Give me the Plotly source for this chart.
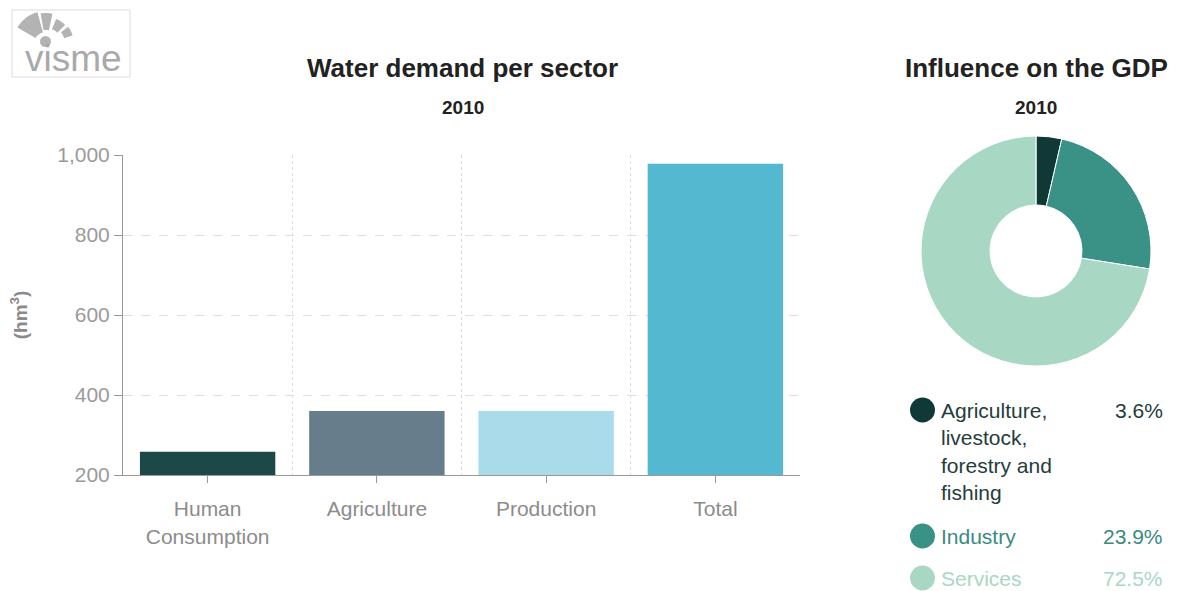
import math
import plotly.graph_objects as go

W, H = 1191, 591

# ---- data ----
sectors = ["Human<br>Consumption", "Agriculture", "Production", "Total"]
demand = [258, 360, 360, 978]
bar_colors = ["#1d4848", "#677d8b", "#a9dbea", "#55b8d1"]

gdp_labels = ["Agriculture,<br>livestock,<br>forestry and<br>fishing", "Industry", "Services"]
gdp_share = [3.6, 23.9, 72.5]
gdp_colors = ["#0f3837", "#3a9186", "#a8d8c3"]
gdp_pct_text = ["3.6%", "23.9%", "72.5%"]

y_ticks = [200, 400, 600, 800, 1000]

def px_x(x):
    return x / W

def px_y(y):
    return 1 - y / H

FONT = "Liberation Sans, Arial, sans-serif"

fig = go.Figure()

xpos = list(range(len(sectors)))
fig.add_trace(go.Bar(
    x=xpos, y=demand, marker=dict(color=bar_colors, line=dict(width=0)),
    width=0.8, showlegend=False, hoverinfo="y",
))

fig.add_trace(go.Pie(
    labels=[l.replace("<br>", " ") for l in gdp_labels], values=gdp_share,
    marker=dict(colors=gdp_colors, line=dict(color="white", width=1)),
    hole=0.4, sort=False, direction="clockwise", rotation=0,
    textinfo="none", showlegend=False,
    domain=dict(x=[px_x(921), px_x(1151)], y=[px_y(366), px_y(136)]),
))

fig.update_layout(
    width=W, height=H,
    autosize=False,
    margin=dict(l=0, r=0, t=0, b=0, pad=0, autoexpand=False),
    paper_bgcolor="white", plot_bgcolor="white",
    font=dict(family=FONT),
    xaxis=dict(
        domain=[px_x(123), px_x(800)],
        range=[-0.5, len(sectors) - 0.5],
        tickvals=xpos, ticktext=sectors,
        showgrid=False, zeroline=False, automargin=False,
        showline=True, linecolor="#999", linewidth=1,
        ticks="outside", ticklen=7, tickcolor="#999",
        ticklabelstandoff=8,
        tickfont=dict(size=21, color="#8c8c8c", family=FONT),
        minor=dict(tickvals=[0.5, 1.5, 2.5, 3.5], showgrid=True,
                   gridcolor="#dedede", griddash="dot", gridwidth=1, ticks=""),
        fixedrange=True,
    ),
    yaxis=dict(
        domain=[px_y(475), px_y(155)],
        range=[200, 1000],
        tickvals=y_ticks, tickformat=",",
        showgrid=True, gridcolor="#dedede", griddash="dash", gridwidth=1,
        zeroline=False, automargin=False,
        showline=True, linecolor="#999", linewidth=1,
        ticks="outside", ticklen=8, tickcolor="#999",
        tickfont=dict(size=21, color="#9a9a9a", family=FONT),
        title=dict(text="<b>(hm<sup>3</sup>)</b>", font=dict(size=19, color="#8a8a8a"), standoff=24),
        fixedrange=True,
    ),
    bargap=0.2,
)

ann = []
# titles
ann.append(dict(text="<b>Water demand per sector</b>", x=px_x(462), y=px_y(68),
                xref="paper", yref="paper", showarrow=False,
                font=dict(size=26, color="#222"), xanchor="center", yanchor="middle"))
ann.append(dict(text="<b>2010</b>", x=px_x(463), y=px_y(107),
                xref="paper", yref="paper", showarrow=False,
                font=dict(size=19, color="#222"), xanchor="center", yanchor="middle"))
ann.append(dict(text="<b>Influence on the GDP</b>", x=px_x(1036), y=px_y(68),
                xref="paper", yref="paper", showarrow=False,
                font=dict(size=26, color="#222"), xanchor="center", yanchor="middle"))
ann.append(dict(text="<b>2010</b>", x=px_x(1036), y=px_y(107),
                xref="paper", yref="paper", showarrow=False,
                font=dict(size=19, color="#222"), xanchor="center", yanchor="middle"))

# custom legend
shapes = []
legend_y = [410, 536, 578]
text_colors = ["#253c3c", "#3a8a80", "#a8d8c3"]
for i, lab in enumerate(gdp_labels):
    cy = legend_y[i]
    shapes.append(dict(type="circle", xref="paper", yref="paper",
                       x0=px_x(910), x1=px_x(935), y0=px_y(cy + 12.5), y1=px_y(cy - 12.5),
                       fillcolor=gdp_colors[i], line=dict(width=0)))
    ann.append(dict(text=lab, x=px_x(939), y=px_y(cy - 13),
                    xref="paper", yref="paper", showarrow=False,
                    font=dict(size=21, color=text_colors[i]), xanchor="left", yanchor="top",
                    align="left"))
    ann.append(dict(text=gdp_pct_text[i], x=px_x(1165), y=px_y(cy - 13),
                    xref="paper", yref="paper", showarrow=False,
                    font=dict(size=21, color=text_colors[i]), xanchor="right", yanchor="top",
                    align="right"))

# logo
shapes.append(dict(type="rect", xref="paper", yref="paper",
                   x0=px_x(12), x1=px_x(130), y0=px_y(77), y1=px_y(10),
                   line=dict(color="#dcdcdc", width=1), fillcolor="white"))
ann.append(dict(text="visme", x=px_x(73), y=px_y(58), xref="paper", yref="paper",
                showarrow=False, font=dict(size=37, color="#a9a9a9", family=FONT),
                xanchor="center", yanchor="middle"))

def wedge(cx, cy, a0, a1, r0, r1, n=8):
    pts = []
    for k in range(n + 1):
        a = math.radians(a0 + (a1 - a0) * k / n)
        pts.append((cx + r1 * math.cos(a), cy - r1 * math.sin(a)))
    for k in range(n + 1):
        a = math.radians(a1 - (a1 - a0) * k / n)
        pts.append((cx + r0 * math.cos(a), cy - r0 * math.sin(a)))
    d = "M " + " L ".join(f"{px_x(x):.5f},{px_y(y):.5f}" for x, y in pts) + " Z"
    return d

for (a0, a1, r0, r1) in [(105, 150, 12, 33), (78, 100, 14, 31), (45, 68, 16, 27), (18, 38, 19, 28)]:
    shapes.append(dict(type="path", xref="paper", yref="paper",
                       path=wedge(46, 44, a0, a1, r0, r1),
                       fillcolor="#b3b3b3", line=dict(width=0)))
shapes.append(dict(type="circle", xref="paper", yref="paper",
                   x0=px_x(40), x1=px_x(51), y0=px_y(47), y1=px_y(36),
                   fillcolor="#b3b3b3", line=dict(width=0)))

fig.update_layout(annotations=ann, shapes=shapes)

fig.write_html("out.html")
